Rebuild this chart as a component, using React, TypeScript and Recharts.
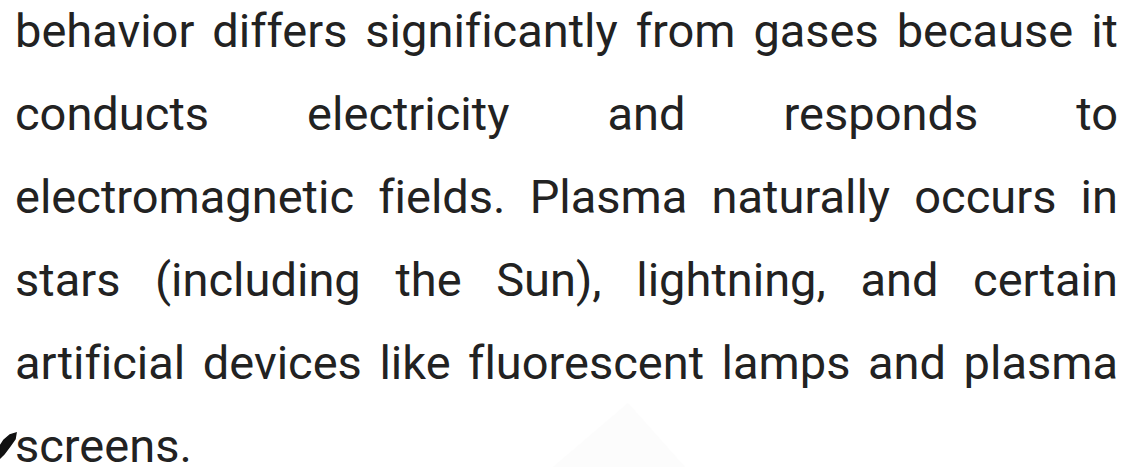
import React from "react";
import { Surface, Polygon } from "recharts";

const lines: string[] = [
  "behavior differs significantly from gases because it",
  "conducts electricity and responds to",
  "electromagnetic fields. Plasma naturally occurs in",
  "stars (including the Sun), lightning, and certain",
  "artificial devices like fluorescent lamps and plasma",
  "screens.",
];

const W = 1127;
const H = 467;
const FONT = 47;
const LINE_H = 83;
const FIRST_BASELINE = 47;
const LEFT = 15;
const TEXT_W = 1103;

const triangle = [
  { x: 628, y: 403 },
  { x: 553, y: 467 },
  { x: 685, y: 467 },
];
const mark = [
  { x: 4, y: 440 },
  { x: 10, y: 435 },
  { x: 16, y: 433 },
  { x: 15, y: 439 },
  { x: 10, y: 446 },
  { x: 4, y: 454 },
  { x: 0, y: 458 },
  { x: 0, y: 446 },
];

export default function App() {
  const halfLeading = (LINE_H - FONT * (0.927 + 0.244)) / 2;
  const top = FIRST_BASELINE - (halfLeading + FONT * 0.927);
  return (
    <div
      style={{
        position: "fixed",
        left: 0,
        top: 0,
        width: W,
        height: H,
        background: "#ffffff",
        overflow: "hidden",
      }}
    >
      <div style={{ position: "absolute", left: 0, top: 0 }}>
        <Surface width={W} height={H}>
          <Polygon points={triangle} fill="#fcfcfc" stroke="none" />
          <Polygon points={mark} fill="#111111" stroke="#111111" strokeWidth={1.5} />
        </Surface>
      </div>
      <div
        style={{
          position: "absolute",
          left: LEFT,
          top,
          width: TEXT_W,
          fontFamily: "Roboto, sans-serif",
          fontSize: FONT,
          lineHeight: `${LINE_H}px`,
          color: "#222222",
          fontVariantLigatures: "none",
          fontFeatureSettings: '"liga" 0, "clig" 0',
        }}
      >
        {lines.map((ln, i) => (
          <div
            key={i}
            style={{
              height: LINE_H,
              whiteSpace: "nowrap",
              textAlign: i === lines.length - 1 ? "left" : "justify",
              textAlignLast: i === lines.length - 1 ? "left" : "justify",
              overflow: "visible",
            }}
          >
            {ln}
          </div>
        ))}
      </div>
    </div>
  );
}
